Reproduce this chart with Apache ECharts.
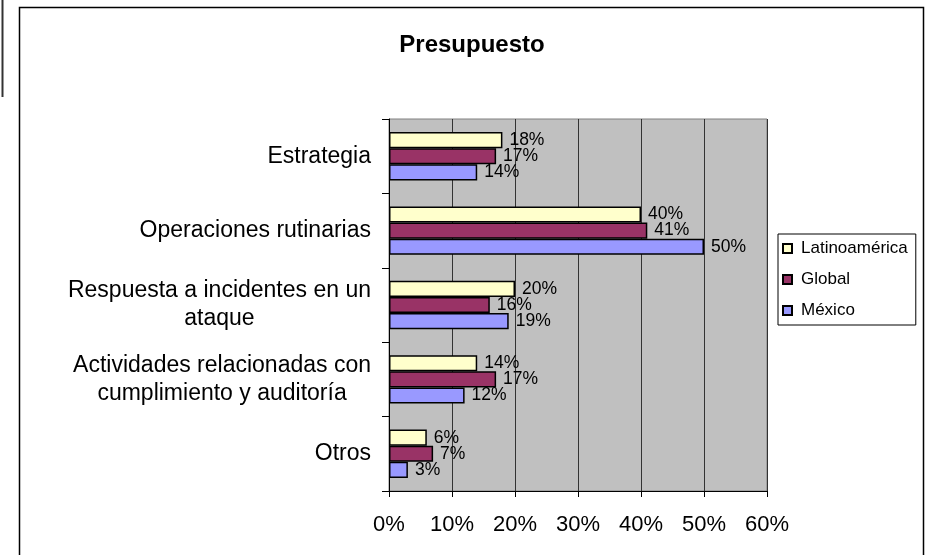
<!DOCTYPE html>
<html>
<head>
<meta charset="utf-8">
<title>Presupuesto</title>
<script src="https://cdn.jsdelivr.net/npm/echarts@6/dist/echarts.min.js"></script>
<style>
    html, body { margin: 0; padding: 0; background: #fff; }
    #chart { width: 926px; height: 555px; }
</style>
</head>
<body>
<div id="chart"></div>
<script>
// Data
const categories = [
    'Estrategia',
    'Operaciones rutinarias',
    'Respuesta a incidentes en un\nataque',
    'Actividades relacionadas con\ncumplimiento y auditoría',
    'Otros'
]
const seriesNames = ['Latinoamérica', 'Global', 'México']
const latamValues = [18, 40, 20, 14, 6]
const globalValues = [17, 41, 16, 17, 7]
const mexicoValues = [14, 50, 19, 12, 3]
const xTicks = [0, 10, 20, 30, 40, 50, 60]

const FONT = '"Liberation Sans", Arial, sans-serif'
const colors = ['#FFFFCC', '#993366', '#9999FF']

const chart = echarts.init(document.getElementById('chart'))

function barSeries(name, data, color) {
    return {
        name: name,
        type: 'bar',
        data: data,
        barGap: '0%',
        barCategoryGap: '35%',
        itemStyle: {
            color: color,
            borderColor: '#000',
            borderWidth: 1.5
        },
        label: {
            show: true,
            position: 'right',
            distance: 7,
            formatter: '{c}%',
            color: '#000',
            fontFamily: FONT,
            fontSize: 17.5
        }
    }
}

const option = {
    animation: false,
    backgroundColor: '#fff',
    title: {
        text: 'Presupuesto',
        left: 467,
        top: 28,
        textAlign: 'center',
        textStyle: {
            fontFamily: FONT,
            fontSize: 24,
            fontWeight: 'bold',
            color: '#000'
        }
    },
    legend: {
        orient: 'vertical',
        left: 778,
        top: 234,
        data: seriesNames,
        icon: 'rect',
        itemWidth: 9,
        itemHeight: 9,
        itemGap: 14,
        padding: [6, 8, 6, 4],
        borderColor: '#000',
        borderWidth: 1,
        textStyle: {
            fontFamily: FONT,
            fontSize: 17,
            color: '#000',
            padding: [0, 0, 0, 4]
        }
    },
    grid: {
        left: 389,
        right: 159,
        top: 119,
        bottom: 64,
        show: true,
        backgroundColor: '#C0C0C0',
        borderColor: '#808080',
        borderWidth: 1
    },
    xAxis: {
        type: 'value',
        min: xTicks[0],
        max: xTicks[xTicks.length - 1],
        interval: 10,
        axisLine: { show: true, lineStyle: { color: '#000', width: 1 } },
        axisTick: { show: true, length: 6, lineStyle: { color: '#000' } },
        splitLine: { show: true, lineStyle: { color: '#333', width: 1 } },
        axisLabel: {
            margin: 23,
            formatter: '{value}%',
            fontFamily: FONT,
            fontSize: 22,
            color: '#000'
        }
    },
    yAxis: {
        type: 'category',
        data: categories,
        inverse: true,
        axisLine: { show: true, lineStyle: { color: '#000', width: 1 } },
        axisTick: { show: true, alignWithLabel: false, length: 7, lineStyle: { color: '#000' } },
        axisLabel: {
            margin: 18,
            fontFamily: FONT,
            fontSize: 23,
            color: '#000',
            lineHeight: 28,
            formatter: (value) => value.split('\n').map(line => '{c|' + line + '}').join('\n'),
            rich: {
                c: {
                    align: 'center',
                    fontFamily: FONT,
                    fontSize: 23,
                    lineHeight: 28,
                    color: '#000'
                }
            }
        }
    },
    series: [
        barSeries(seriesNames[0], latamValues, colors[0]),
        barSeries(seriesNames[1], globalValues, colors[1]),
        barSeries(seriesNames[2], mexicoValues, colors[2])
    ],
    graphic: [
        {
            type: 'rect',
            silent: true,
            shape: { x: 19.5, y: 7.5, width: 904, height: 560 },
            style: { fill: 'none', stroke: '#000', lineWidth: 1.5 },
            z: -1
        },
        {
            type: 'line',
            silent: true,
            shape: { x1: 2.5, y1: 0, x2: 2.5, y2: 97 },
            style: { stroke: '#333', lineWidth: 2 }
        }
    ]
}

chart.setOption(option)
</script>
</body>
</html>
